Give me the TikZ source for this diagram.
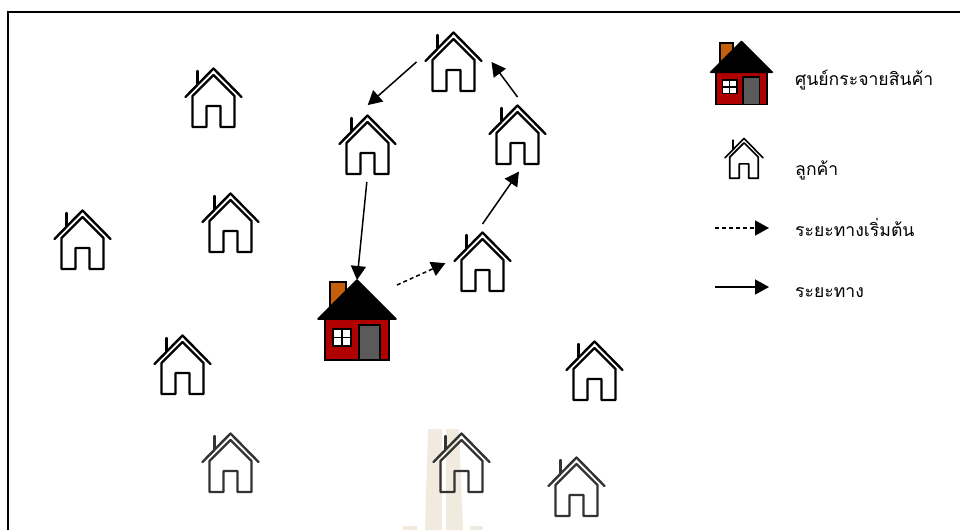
\documentclass[tikz,border=0pt]{standalone}
\usepackage{fontspec}
\newfontfamily\thaifont[Script=Thai]{Loma}
\usetikzlibrary{positioning,arrows.meta}
\definecolor{wallred}{HTML}{B00000}
\definecolor{chimbrown}{HTML}{C55F0C}
\definecolor{doorgray}{HTML}{5A5A5A}
\definecolor{markbeige}{HTML}{F1EBDF}
\tikzset{
  custbox/.style={minimum width=56pt, minimum height=60pt, inner sep=0pt, outer sep=0pt},
  depotbox/.style={minimum width=80pt, minimum height=80pt, inner sep=0pt, outer sep=0pt},
  route/.style={line width=1.5pt, -{Triangle[width=15pt,length=14pt]}},
  firstleg/.style={route, dash pattern=on 4pt off 3pt},
  legendtext/.style={anchor=base west, inner sep=0pt, font=\thaifont\fontsize{17.6}{20}\selectfont},
  custpen/.style={line width=2.4pt},
  custhouse/.pic={
    \draw[pic actions, custpen, line cap=round, line join=round] (-28,-1) -- (0,-29.5) -- (28,-1);
    \draw[pic actions, custpen, line cap=round] (-16,-14) -- (-16,-27);
    \draw[pic actions, custpen, line join=round] (-21,-2) -- (0,-23) -- (21,-2) -- (21,29) -- (7,29) -- (7,8) -- (-7,8) -- (-7,29) -- (-21,29) -- cycle;
  },
  depothouse/.pic={
    \draw[line width=1.6pt, fill=chimbrown] (-27,-38) rectangle (-11,-12);
    \draw[line width=1.6pt, fill=wallred] (-32,-2) rectangle (32,40);
    \draw[line width=1.6pt, fill=black, line join=round] (-39,-1) -- (0,-40) -- (39,-1) -- cycle;
    \draw[line width=1.6pt, fill=doorgray] (2,5) rectangle (23,40);
    \draw[line width=1.6pt, fill=white] (-24,9) rectangle (-6,26);
    \draw[line width=1.6pt] (-15,9) -- (-15,26) (-24,17.5) -- (-6,17.5);
  }
}
\begin{document}
\begin{tikzpicture}[x=1pt, y=-1pt]
\useasboundingbox (0,0) rectangle (960,530);
% faint mark behind the houses
\fill[markbeige] (428,429) -- (442,429) -- (442,530) -- (425,530) -- cycle;
\fill[markbeige] (446,429) -- (459,429) -- (463,530) -- (446,530) -- cycle;
\fill[markbeige] (403,526) rectangle (417,530);
\fill[markbeige] (470,526) rectangle (483,530);
% frame, open at the right and bottom
\draw[line width=1.5pt] (8,530) -- (8,12) -- (960,12);
% customers
\foreach \nm/\x/\y in {custA/213.5/98, custB/453.5/62, custC/367.5/145, custD/517.5/135, custE/230.5/223, custF/82.5/240, custG/482.5/262, custH/182.5/365, custI/594.5/371}{
  \node[custbox] (\nm) at (\x,\y) {};
  \pic at (\nm) {custhouse};
}
% bottom row is a little lighter
\foreach \nm/\x/\y in {custJ/230.5/463, custK/461.5/463, custL/576.5/487}{
  \node[custbox] (\nm) at (\x,\y) {};
  \pic[draw=black!80] at (\nm) {custhouse};
}
% depot
\node[depotbox] (depot) at (357,320) {};
\pic at (depot) {depothouse};
% route
\draw[route, shorten <=12pt, shorten >=15pt] ([yshift=8pt]custB.west) -- ([xshift=-11pt]custC.north);
\draw[route, shorten <=7pt] (custC.south) -- (depot.north);
\draw[firstleg, shorten >=10pt] ([yshift=-5pt]depot.north east) -- ([yshift=3pt]custG.west);
\draw[route, shorten >=8pt] ([yshift=8pt]custG.north) -- ([xshift=6pt]custD.south);
\draw[route, shorten <=10pt] ([xshift=6pt]custD.north) -- ([xshift=10pt]custB.east);
% legend
\node[depotbox, minimum width=63pt, minimum height=63pt] (legdepot) at (741.5,73) {};
\pic[scale=0.79] at (legdepot) {depothouse};
\node[custbox, minimum width=38pt, minimum height=40pt] (legcust) at (744,158.5) {};
\begin{scope}[custpen/.style={line width=1.6pt}]
\pic[scale=0.68] at (legcust) {custhouse};
\end{scope}
\coordinate (legdashA) at (715,228);
\coordinate (legdashB) at (769,228);
\coordinate (legsolidA) at (715,287);
\coordinate (legsolidB) at (769,287);
\draw[firstleg] (legdashA) -- (legdashB);
\draw[route] (legsolidA) -- (legsolidB);
\node[legendtext] (txtdepot) at (795,85) {ศูนย์กระจายสินค้า};
\node[legendtext] (txtcust) at (795,175) {ลูกค้า};
\node[legendtext] (txtfirst) at (795,236.5) {ระยะทางเริ่มต้น};
\node[legendtext] (txtdist) at (795,297) {ระยะทาง};
\end{tikzpicture}
\end{document}
